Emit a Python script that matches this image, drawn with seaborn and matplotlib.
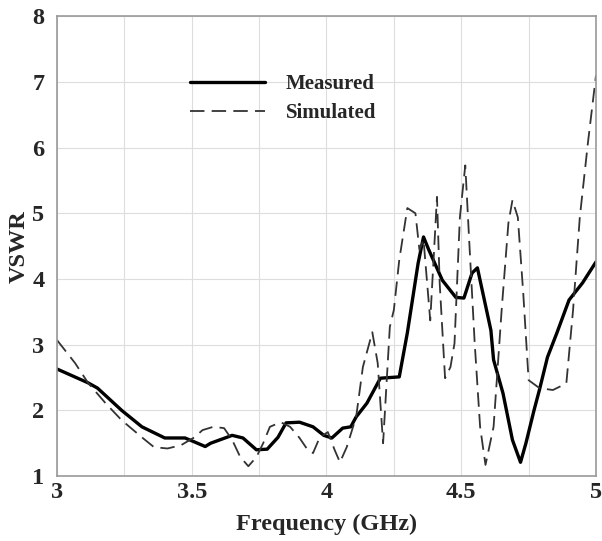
import matplotlib
matplotlib.use('Agg')
import matplotlib.pyplot as plt
import seaborn as sns
from matplotlib.ticker import MultipleLocator

# Measured VSWR
meas_freq = [3.00, 3.115, 3.15, 3.24, 3.315, 3.40, 3.475, 3.51, 3.55, 3.57, 3.65, 3.69,
             3.74, 3.78, 3.82, 3.85, 3.90, 3.95, 3.99, 4.02, 4.06, 4.09, 4.11, 4.15,
             4.20, 4.27, 4.30, 4.34, 4.36, 4.38, 4.43, 4.48, 4.51, 4.54, 4.56, 4.61,
             4.62, 4.655, 4.69, 4.72, 4.74, 4.77, 4.79, 4.82, 4.855, 4.90, 4.95, 5.00]
meas_vswr = [2.63, 2.42, 2.34, 2.00, 1.75, 1.58, 1.58, 1.52, 1.45, 1.50, 1.62, 1.58,
             1.40, 1.41, 1.59, 1.81, 1.82, 1.75, 1.62, 1.58, 1.73, 1.75, 1.90, 2.11,
             2.49, 2.51, 3.18, 4.24, 4.64, 4.44, 3.98, 3.72, 3.71, 4.09, 4.17, 3.22,
             2.77, 2.26, 1.55, 1.21, 1.50, 2.00, 2.31, 2.81, 3.18, 3.68, 3.94, 4.26]

# Simulated VSWR
sim_freq = [3.00, 3.067, 3.115, 3.18, 3.24, 3.315, 3.36, 3.41, 3.46, 3.51, 3.54, 3.58,
            3.62, 3.65, 3.68, 3.71, 3.74, 3.765, 3.79, 3.83, 3.865, 3.90, 3.93, 3.95,
            3.975, 4.005, 4.03, 4.05, 4.075, 4.11, 4.135, 4.17, 4.19, 4.21, 4.235, 4.25,
            4.27, 4.30, 4.33, 4.345, 4.36, 4.385, 4.41, 4.42, 4.44, 4.46, 4.475, 4.495,
            4.515, 4.53, 4.55, 4.57, 4.59, 4.62, 4.65, 4.675, 4.69, 4.71, 4.73, 4.75,
            4.79, 4.84, 4.89, 4.915, 4.94, 4.97, 5.00]
sim_vswr = [3.07, 2.72, 2.42, 2.11, 1.85, 1.59, 1.44, 1.42, 1.47, 1.59, 1.70, 1.75,
            1.73, 1.55, 1.29, 1.15, 1.29, 1.50, 1.75, 1.82, 1.75, 1.58, 1.40, 1.35,
            1.59, 1.67, 1.40, 1.21, 1.44, 1.90, 2.66, 3.19, 2.72, 1.50, 3.27, 3.53,
            4.29, 5.08, 5.00, 4.44, 4.60, 3.37, 5.25, 3.94, 2.49, 2.66, 3.02, 4.94,
            5.73, 4.55, 3.02, 1.75, 1.17, 1.75, 3.53, 4.85, 5.20, 4.94, 3.79, 2.46,
            2.34, 2.31, 2.41, 3.53, 4.94, 6.07, 7.10]

xtick_labels = ['3', '3.5', '4', '4.5', '5']

sns.set_style('whitegrid')
plt.rcParams['font.family'] = ['Liberation Serif', 'DejaVu Serif']
plt.rcParams['font.weight'] = 'bold'

fig = plt.figure(figsize=(6.02, 5.41), dpi=100)
ax = fig.add_axes([0.0947, 0.120, 0.8953, 0.850])

sns.lineplot(x=meas_freq, y=meas_vswr, ax=ax, sort=False, estimator=None,
             color='black', linewidth=2.4, label='Measured')
sns.lineplot(x=sim_freq, y=sim_vswr, ax=ax, sort=False, estimator=None,
             color='#333333', linewidth=1.3, label='Simulated')
ax.lines[1].set_dashes((8, 4))

ax.set_xlim(3, 5)
ax.set_ylim(1, 8)
ax.xaxis.set_minor_locator(MultipleLocator(0.25))
ax.set_xticks([3, 3.5, 4, 4.5, 5])
ax.set_xticklabels(xtick_labels, fontsize=17.5, fontweight='bold')
ax.set_yticks(range(1, 9))
ax.set_yticklabels([str(v) for v in range(1, 9)], fontsize=17.5, fontweight='bold')
ax.tick_params(axis='y', length=0, pad=9)
ax.tick_params(axis='x', length=0, pad=4)
ax.tick_params(which='minor', length=0)
ax.grid(which='major', color='#dddddd', linewidth=0.8)
ax.grid(which='minor', axis='x', color='#dddddd', linewidth=0.8)

for s in ax.spines.values():
    s.set_color('#999999')
    s.set_linewidth(1.2)

ax.set_xlabel('Frequency (GHz)', fontsize=17.5, fontweight='bold', labelpad=8)
ax.set_ylabel('VSWR', fontsize=17.5, fontweight='bold')
ax.yaxis.set_label_coords(-0.05, 0.5)

leg = ax.legend(loc='upper left', bbox_to_anchor=(0.212, 0.915), frameon=False,
                handlelength=3.6, fontsize=15, labelspacing=0.42, handletextpad=1.0)
for t in leg.get_texts():
    t.set_fontweight('bold')

fig.savefig('out.png', dpi=100)
